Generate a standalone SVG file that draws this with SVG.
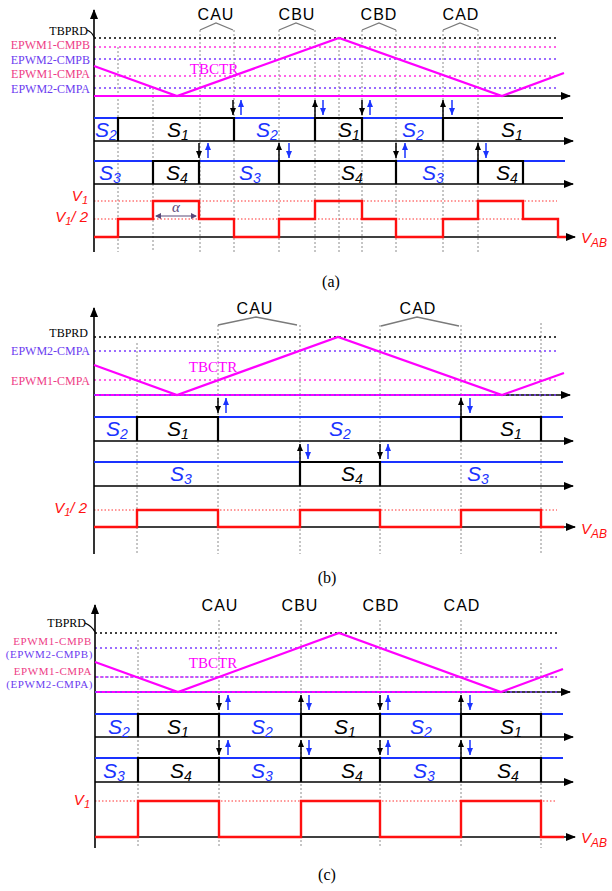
<svg xmlns="http://www.w3.org/2000/svg" width="612" height="891" viewBox="0 0 612 891">
<style>
.bg{fill:#fff}
.axa{stroke:#000;stroke-width:1.6;fill:none;marker-end:url(#axh)}
.grid{stroke:#8c8c8c;stroke-width:1;stroke-dasharray:2 2;fill:none}
.dk{stroke:#000;stroke-width:1.6;stroke-dasharray:2 3;fill:none}
.dm{stroke:#ff30e0;stroke-width:1.6;stroke-dasharray:2 3;fill:none}
.dp{stroke:#7b3cff;stroke-width:1.6;stroke-dasharray:2 3;fill:none}
.dr{stroke:#ff3030;stroke-width:1;stroke-dasharray:1.5 2;fill:none}
.tri{stroke:#ff00ff;stroke-width:2.2;fill:none}
.brk{stroke:#7a7a7a;stroke-width:1.3;fill:none}
.sb{stroke:#1a33ff;stroke-width:2.2;fill:none}
.sk{stroke:#000;stroke-width:2.2;fill:none}
.red{stroke:#ff1010;stroke-width:2.4;fill:none;stroke-linejoin:miter}
.ak{stroke:#000;stroke-width:1.5;fill:none;marker-end:url(#hk)}
.ab{stroke:#1a33ff;stroke-width:1.5;fill:none;marker-end:url(#hb)}
.lbl{font-family:"Liberation Serif","Times New Roman",serif;font-size:12px}
.lbs{font-family:"Liberation Serif","Times New Roman",serif;font-size:11px;letter-spacing:0.6px}
.pk{fill:#ee3d86}
.pu{fill:#6b3cf0}
.ck{font-family:"Liberation Sans",Arial,sans-serif;font-size:16px;letter-spacing:1px;text-anchor:middle;fill:#000}
.tb{font-family:"Liberation Serif","Times New Roman",serif;font-size:15px;fill:#ff00ff;text-anchor:middle}
.s{font-family:"Liberation Sans",Arial,sans-serif;font-style:italic;font-size:21px;text-anchor:middle}
.sbt{fill:#1a33ff}
.skt{fill:#000}
.v{font-family:"Liberation Sans",Arial,sans-serif;font-style:italic;font-size:15px;fill:#ff1010}
.cap{font-family:"Liberation Serif","Times New Roman",serif;font-size:16px;text-anchor:middle;fill:#000}
</style>
<defs>
<marker id="axh" viewBox="0 0 10 8" refX="9" refY="4" markerWidth="10" markerHeight="8" markerUnits="userSpaceOnUse" orient="auto"><path d="M0,0 L10,4 L0,8 z" fill="#000"/></marker>
<marker id="hk" viewBox="0 0 7 6" refX="7" refY="3" markerWidth="7" markerHeight="6" markerUnits="userSpaceOnUse" orient="auto"><path d="M0,0 L7,3 L0,6 z" fill="#000"/></marker>
<marker id="hb" viewBox="0 0 7 6" refX="7" refY="3" markerWidth="7" markerHeight="6" markerUnits="userSpaceOnUse" orient="auto"><path d="M0,0 L7,3 L0,6 z" fill="#1a33ff"/></marker>
</defs>
<rect class="bg" x="0" y="0" width="612" height="891"/>

<!-- ================= PANEL (a) ================= -->
<g id="panel-a">
<g id="a-grid">
<path class="grid" d="M118,47V252 M153,88V252 M200,30V252 M234,30V252 M279,30V252 M315,30V252 M339,38V252 M362,30V252 M396,30V252 M443,30V252 M478,30V252"/>
</g>
<g id="a-levels">
<path class="dk" d="M94,38H558"/>
<path class="dm" d="M94,47H558"/>
<path class="dp" d="M94,59H558"/>
<path class="dm" d="M94,76H558"/>
<path class="dp" d="M94,88H558"/>
<path class="dr" d="M94,201H557 M94,219H557"/>
</g>
<g id="a-labels">
<text class="lbl" x="88" y="35" text-anchor="end" fill="#000">TBPRD</text>
<path d="M87,30 Q92,32 94,37" stroke="#000" stroke-width="1.2" fill="none"/>
<text class="lbl pk" x="90" y="49" text-anchor="end">EPWM1-CMPB</text>
<text class="lbl pu" x="90" y="64" text-anchor="end">EPWM2-CMPB</text>
<text class="lbl pk" x="90" y="78" text-anchor="end">EPWM1-CMPA</text>
<text class="lbl pu" x="90" y="93" text-anchor="end">EPWM2-CMPA</text>
<text class="ck" x="216" y="20">CAU</text>
<text class="ck" x="297" y="20">CBU</text>
<text class="ck" x="379" y="20">CBD</text>
<text class="ck" x="461" y="20">CAD</text>
<path class="brk" d="M200,30 L216,23 L233,30 M279,30 L296,23 L314,30 M362,30 L379,23 L396,30 M443,30 L460,23 L478,30"/>
<text class="tb" x="214" y="74">TBCTR</text>
</g>
<g id="a-axes">
<path class="axa" d="M94,252V10"/>
<path class="axa" d="M94,96H570"/>
<path class="axa" d="M94,141H573"/>
<path class="axa" d="M94,184H573"/>
<path class="axa" d="M94,237H575"/>
</g>
<path class="tri" d="M94,96H502"/>
<path class="tri" d="M94,66 L177,96 L339,38 L502,96 L564,73"/>
<g id="a-row1">
<path class="sb" d="M94,118H118 M234,118H315 M362,118H443"/>
<path class="sk" d="M118,141V118H234V141 M315,141V118H362V141 M443,141V118H563"/>
<text class="s sbt" x="106" y="137">S<tspan font-size="14" dy="3">2</tspan></text>
<text class="s skt" x="178" y="137">S<tspan font-size="14" dy="3">1</tspan></text>
<text class="s sbt" x="267" y="137">S<tspan font-size="14" dy="3">2</tspan></text>
<text class="s skt" x="349" y="137">S<tspan font-size="14" dy="3">1</tspan></text>
<text class="s sbt" x="413" y="137">S<tspan font-size="14" dy="3">2</tspan></text>
<text class="s skt" x="512" y="137">S<tspan font-size="14" dy="3">1</tspan></text>
</g>
<g id="a-row2">
<path class="sb" d="M94,161H153 M199,161H279 M396,161H478 M523,161H565"/>
<path class="sk" d="M153,184V161H199V184 M279,184V161H396V184 M478,184V161H523V184"/>
<text class="s sbt" x="110" y="180">S<tspan font-size="14" dy="3">3</tspan></text>
<text class="s skt" x="177" y="180">S<tspan font-size="14" dy="3">4</tspan></text>
<text class="s sbt" x="250" y="180">S<tspan font-size="14" dy="3">3</tspan></text>
<text class="s skt" x="352" y="180">S<tspan font-size="14" dy="3">4</tspan></text>
<text class="s sbt" x="433" y="180">S<tspan font-size="14" dy="3">3</tspan></text>
<text class="s skt" x="507" y="180">S<tspan font-size="14" dy="3">4</tspan></text>
</g>
<g id="a-arrows">
<line class="ak" x1="233" y1="100" x2="233" y2="115"/>
<line class="ak" x1="362" y1="100" x2="362" y2="115"/>
<line class="ak" x1="199" y1="143" x2="199" y2="158"/>
<line class="ak" x1="396" y1="143" x2="396" y2="158"/>
<line class="ak" x1="315" y1="118" x2="315" y2="100"/>
<line class="ak" x1="443" y1="118" x2="443" y2="100"/>
<line class="ak" x1="279" y1="161" x2="279" y2="143"/>
<line class="ak" x1="478" y1="161" x2="478" y2="143"/>
<line class="ab" x1="241" y1="115" x2="241" y2="100"/>
<line class="ab" x1="370" y1="115" x2="370" y2="100"/>
<line class="ab" x1="208" y1="158" x2="208" y2="143"/>
<line class="ab" x1="405" y1="158" x2="405" y2="143"/>
<line class="ab" x1="323" y1="100" x2="323" y2="115"/>
<line class="ab" x1="452" y1="100" x2="452" y2="115"/>
<line class="ab" x1="289" y1="143" x2="289" y2="158"/>
<line class="ab" x1="486" y1="143" x2="486" y2="158"/>
</g>
<g id="a-vab">
<path class="red" d="M94,237H118V219H153V201H199V219H234V237H279V219H315V201H362V219H396V237H443V219H478V201H523V219H558V237H566"/>
<path d="M156,216H196" stroke="#5a4a7a" stroke-width="1.2" fill="none"/>
<path d="M155,216 L161,213 L161,219 z M197,216 L191,213 L191,219 z" fill="#5a4a7a"/>
<text x="176" y="212" font-family="Liberation Serif,serif" font-style="italic" font-size="15" fill="#5a4a7a" text-anchor="middle">α</text>
<text class="v" x="88" y="201" text-anchor="end">V<tspan font-size="11" dy="3">1</tspan></text>
<text class="v" x="88" y="222" text-anchor="end">V<tspan font-size="11" dy="3">1</tspan><tspan dy="-3">/ 2</tspan></text>
<text class="v" x="581" y="243" font-size="18">V<tspan font-size="12" dy="4">AB</tspan></text>
</g>
<text class="cap" x="331" y="287">(a)</text>
</g>

<!-- ================= PANEL (b) ================= -->
<g id="panel-b">
<g id="b-grid">
<path class="grid" d="M137,343V554 M218,325V554 M300,325V554 M380,325V554 M461,325V554 M541,323V554"/>
</g>
<g id="b-levels">
<path class="dk" d="M94,337H558"/>
<path class="dp" d="M94,351H558"/>
<path class="dm" d="M94,380H558"/>
<path class="dr" d="M94,510H557"/>
</g>
<g id="b-labels">
<text class="lbl" x="88" y="337" text-anchor="end" fill="#000">TBPRD</text>
<text class="lbl pu" x="90" y="355" text-anchor="end">EPWM2-CMPA</text>
<text class="lbl pk" x="90" y="385" text-anchor="end">EPWM1-CMPA</text>
<text class="ck" x="255" y="314">CAU</text>
<text class="ck" x="418" y="314">CAD</text>
<path class="brk" d="M218,325 L256,317 L297,325 M381,326 L417,317 L459,326"/>
<text class="tb" x="213" y="372">TBCTR</text>
</g>
<g id="b-axes">
<path class="axa" d="M94,554V308"/>
<path class="axa" d="M94,395H570"/>
<path class="axa" d="M94,441H573"/>
<path class="axa" d="M94,486H573"/>
<path class="axa" d="M94,527H575"/>
</g>
<path class="tri" d="M94,395H502"/>
<path class="dp" d="M94,395H558" stroke-width="1.2"/>
<path class="tri" d="M94,365 L177,395 L338,337 L502,395 L564,373"/>
<g id="b-row1">
<path class="sb" d="M94,417H137 M218,417H461 M541,417H563"/>
<path class="sk" d="M137,441V417H218V441 M461,441V417H541V441"/>
<text class="s sbt" x="117" y="436">S<tspan font-size="14" dy="3">2</tspan></text>
<text class="s skt" x="178" y="436">S<tspan font-size="14" dy="3">1</tspan></text>
<text class="s sbt" x="340" y="436">S<tspan font-size="14" dy="3">2</tspan></text>
<text class="s skt" x="511" y="436">S<tspan font-size="14" dy="3">1</tspan></text>
</g>
<g id="b-row2">
<path class="sb" d="M94,462H300 M380,462H563"/>
<path class="sk" d="M300,486V462H380V486"/>
<text class="s sbt" x="181" y="481">S<tspan font-size="14" dy="3">3</tspan></text>
<text class="s skt" x="352" y="481">S<tspan font-size="14" dy="3">4</tspan></text>
<text class="s sbt" x="478" y="481">S<tspan font-size="14" dy="3">3</tspan></text>
</g>
<g id="b-arrows">
<line class="ak" x1="218" y1="398" x2="218" y2="413"/>
<line class="ak" x1="380" y1="444" x2="380" y2="459"/>
<line class="ak" x1="461" y1="417" x2="461" y2="398"/>
<line class="ak" x1="300" y1="462" x2="300" y2="444"/>
<line class="ab" x1="226" y1="413" x2="226" y2="398"/>
<line class="ab" x1="388" y1="459" x2="388" y2="444"/>
<line class="ab" x1="470" y1="398" x2="470" y2="413"/>
<line class="ab" x1="308" y1="444" x2="308" y2="459"/>
</g>
<g id="b-vab">
<path class="red" d="M94,527H137V510H218V527H300V510H380V527H461V510H541V527H564"/>
<text class="v" x="87" y="513" text-anchor="end">V<tspan font-size="11" dy="3">1</tspan><tspan dy="-3">/ 2</tspan></text>
<text class="v" x="581" y="534" font-size="18">V<tspan font-size="12" dy="4">AB</tspan></text>
</g>
<text class="cap" x="327" y="583">(b)</text>
</g>

<!-- ================= PANEL (c) ================= -->
<g id="panel-c">
<g id="c-grid">
<path class="grid" d="M138,640V848 M219,620V848 M301,620V848 M380,620V848 M461,620V848 M541,663V848"/>
</g>
<g id="c-levels">
<path class="dk" d="M95,633H557"/>
<path class="dp" d="M95,648H557"/>
<path class="dm" d="M95,677H557"/>
<path class="dp" d="M96.5,677H557"/>
<path class="dr" d="M95,801H555"/>
</g>
<g id="c-labels">
<text class="lbl" x="86" y="627" text-anchor="end" fill="#000">TBPRD</text>
<path d="M85,623 Q92,626 95,632" stroke="#000" stroke-width="1.2" fill="none"/>
<text class="lbs pk" x="92" y="645" text-anchor="end">EPWM1-CMPB</text>
<text class="lbs pu" x="93" y="658" text-anchor="end">(EPWM2-CMPB)</text>
<text class="lbs pk" x="92" y="675" text-anchor="end">EPWM1-CMPA</text>
<text class="lbs pu" x="93" y="688" text-anchor="end">(EPWM2-CMPA)</text>
<text class="ck" x="220" y="611">CAU</text>
<text class="ck" x="300" y="611">CBU</text>
<text class="ck" x="381" y="611">CBD</text>
<text class="ck" x="462" y="611">CAD</text>
<text class="tb" x="213" y="668">TBCTR</text>
</g>
<g id="c-axes">
<path class="axa" d="M95,848V605"/>
<path class="axa" d="M95,692H570"/>
<path class="axa" d="M95,737H573"/>
<path class="axa" d="M95,782H573"/>
<path class="axa" d="M95,837H575"/>
</g>
<path class="tri" d="M95,692H502"/>
<path class="dp" d="M95,692H558" stroke-width="1.2"/>
<path class="tri" d="M95,662 L178,692 L339,633 L501,692 L563,669"/>
<g id="c-row1">
<path class="sb" d="M95,714H138 M219,714H301 M380,714H461 M541,714H563"/>
<path class="sk" d="M138,737V714H219V737 M301,737V714H380V737 M461,737V714H541V737"/>
<text class="s sbt" x="119" y="734">S<tspan font-size="14" dy="3">2</tspan></text>
<text class="s skt" x="178" y="734">S<tspan font-size="14" dy="3">1</tspan></text>
<text class="s sbt" x="262" y="734">S<tspan font-size="14" dy="3">2</tspan></text>
<text class="s skt" x="345" y="734">S<tspan font-size="14" dy="3">1</tspan></text>
<text class="s sbt" x="421" y="734">S<tspan font-size="14" dy="3">2</tspan></text>
<text class="s skt" x="511" y="734">S<tspan font-size="14" dy="3">1</tspan></text>
</g>
<g id="c-row2">
<path class="sb" d="M95,758H138 M219,758H301 M380,758H461 M541,758H563"/>
<path class="sk" d="M138,782V758H219V782 M301,782V758H380V782 M461,782V758H541V782"/>
<text class="s sbt" x="114" y="778">S<tspan font-size="14" dy="3">3</tspan></text>
<text class="s skt" x="181" y="778">S<tspan font-size="14" dy="3">4</tspan></text>
<text class="s sbt" x="262" y="778">S<tspan font-size="14" dy="3">3</tspan></text>
<text class="s skt" x="352" y="778">S<tspan font-size="14" dy="3">4</tspan></text>
<text class="s sbt" x="424" y="778">S<tspan font-size="14" dy="3">3</tspan></text>
<text class="s skt" x="508" y="778">S<tspan font-size="14" dy="3">4</tspan></text>
</g>
<g id="c-arrows">
<line class="ak" x1="219" y1="695" x2="219" y2="710"/>
<line class="ak" x1="380" y1="695" x2="380" y2="710"/>
<line class="ak" x1="219" y1="740" x2="219" y2="755"/>
<line class="ak" x1="380" y1="740" x2="380" y2="755"/>
<line class="ak" x1="301" y1="714" x2="301" y2="695"/>
<line class="ak" x1="461" y1="714" x2="461" y2="695"/>
<line class="ak" x1="301" y1="758" x2="301" y2="740"/>
<line class="ak" x1="461" y1="758" x2="461" y2="740"/>
<line class="ab" x1="228" y1="710" x2="228" y2="695"/>
<line class="ab" x1="388" y1="710" x2="388" y2="695"/>
<line class="ab" x1="228" y1="755" x2="228" y2="740"/>
<line class="ab" x1="388" y1="755" x2="388" y2="740"/>
<line class="ab" x1="309" y1="695" x2="309" y2="710"/>
<line class="ab" x1="470" y1="695" x2="470" y2="710"/>
<line class="ab" x1="309" y1="740" x2="309" y2="755"/>
<line class="ab" x1="470" y1="740" x2="470" y2="755"/>
</g>
<g id="c-vab">
<path class="red" d="M95,837H138V801H219V837H301V801H380V837H461V801H541V837H564"/>
<text class="v" x="90" y="805" text-anchor="end">V<tspan font-size="11" dy="3">1</tspan></text>
<text class="v" x="581" y="843" font-size="18">V<tspan font-size="12" dy="4">AB</tspan></text>
</g>
<text class="cap" x="327" y="880">(c)</text>
</g>
</svg>
